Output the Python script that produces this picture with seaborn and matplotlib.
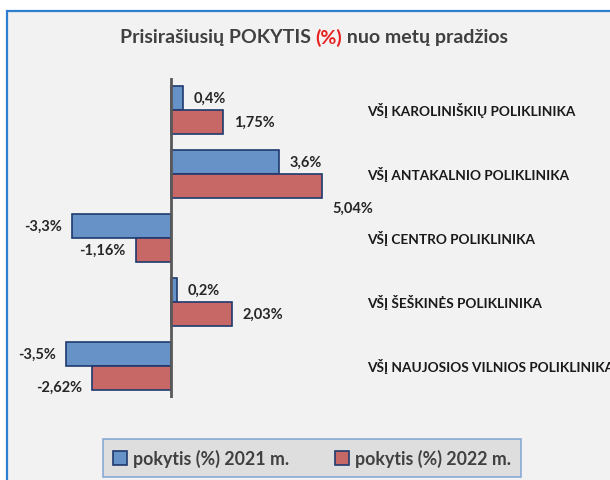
import pandas as pd
import seaborn as sns
import matplotlib.pyplot as plt
from matplotlib.patches import Rectangle

categories = [
    "VŠĮ KAROLINIŠKIŲ POLIKLINIKA",
    "VŠĮ ANTAKALNIO POLIKLINIKA",
    "VŠĮ CENTRO POLIKLINIKA",
    "VŠĮ ŠEŠKINĖS POLIKLINIKA",
    "VŠĮ NAUJOSIOS VILNIOS POLIKLINIKA",
]
series = ["pokytis (%) 2021 m.", "pokytis (%) 2022 m."]
values_2021 = [0.4, 3.6, -3.3, 0.2, -3.5]
values_2022 = [1.75, 5.04, -1.16, 2.03, -2.62]
labels_2021 = ["0,4%", "3,6%", "-3,3%", "0,2%", "-3,5%"]
labels_2022 = ["1,75%", "5,04%", "-1,16%", "2,03%", "-2,62%"]

FONT = ["Lato", "DejaVu Sans"]
TXT = "#404040"
BLUE = "#6792c8"
RED = "#c86866"
EDGE = "#1f3a6e"

df = pd.DataFrame({
    "category": categories * 2,
    "series": [series[0]] * 5 + [series[1]] * 5,
    "value": values_2021 + values_2022,
})

sns.set_style("white")
plt.rcParams["font.family"] = FONT

W, H = 610, 481
fig = plt.figure(figsize=(W / 100, H / 100), dpi=100)
fig.patch.set_facecolor("white")
# chart area with blue border (left/top visible, right/bottom cut off)
fig.patches.append(Rectangle((7 / W, -0.05), 1.1, (H - 12) / H + 0.05, transform=fig.transFigure,
                             facecolor="#f2f2f2", edgecolor="#2f7fd0", lw=1.6, zorder=-10))

ax = fig.add_axes([20 / W, 82 / H, 580 / W, 320 / H])
ax.set_zorder(2)
ax.patch.set_alpha(0)
sns.barplot(data=df, y="category", x="value", hue="series", hue_order=series,
            palette=[BLUE, RED], saturation=1, width=0.75, orient="h",
            edgecolor=EDGE, linewidth=1.2, ax=ax)

handles, leg_labels = ax.get_legend_handles_labels()
ax.get_legend().remove()

zero_px, scale = 171, 30.0
ax.set_xlim((20 - zero_px) / scale, (600 - zero_px) / scale)
ax.set_ylim(4.5, -0.5)
ax.axvline(0, color="#595959", lw=2, zorder=3)
for s in ax.spines.values():
    s.set_visible(False)
ax.set_xticks([])
ax.set_yticks([])
ax.set_xlabel("")
ax.set_ylabel("")

# data labels
label_sets = [labels_2021, labels_2022]
extra_dy = {(1, 1): -16, (1, 4): -6}
for k, cont in enumerate(ax.containers):
    for i, bar in enumerate(cont):
        v = bar.get_width()
        yc = bar.get_y() + bar.get_height() / 2
        dx = 7.5 if v >= 0 else -7.5
        dy = extra_dy.get((k, i), 0)
        ax.annotate(label_sets[k][i], xy=(v, yc), xytext=(dx, dy), textcoords="offset points",
                    ha="left" if v >= 0 else "right", va="center",
                    fontsize=10.5, fontweight="bold", color="#262626")

# category labels on the right
for i, c in enumerate(categories):
    ax.text((367 - zero_px) / scale, i, c, ha="left", va="center",
            fontsize=9.8, fontweight="bold", color="#1a1a1a")

# title with red "(%)"
parts = [("Prisirašiusių POKYTIS ", TXT), ("(%)", "#e82020"), (" nuo metų pradžios", TXT)]
fig.canvas.draw()
r = fig.canvas.get_renderer()
texts = []
for s, col in parts:
    t = fig.text(0, (H - 38) / H, s, fontsize=14, fontweight="bold", color=col,
                 va="center", ha="left")
    texts.append(t)
widths = [t.get_window_extent(renderer=r).width for t in texts]
x = 314 - sum(widths) / 2
for t, w in zip(texts, widths):
    t.set_x(x / W)
    x += w

leg = fig.legend(handles, leg_labels, loc="center", bbox_to_anchor=(312 / W, (H - 459) / H),
                 ncol=2, frameon=True, fancybox=False,
                 prop={"size": 12.8, "weight": "bold"}, handlelength=0.8,
                 handleheight=0.8, handletextpad=0.3, columnspacing=2.6, borderpad=0.55,
                 labelcolor=TXT)
leg.get_frame().set_facecolor("#d9d9d9")
leg.get_frame().set_edgecolor("#6f9bd1")
leg.get_frame().set_linewidth(1.2)

fig.savefig("out.png", dpi=100)
